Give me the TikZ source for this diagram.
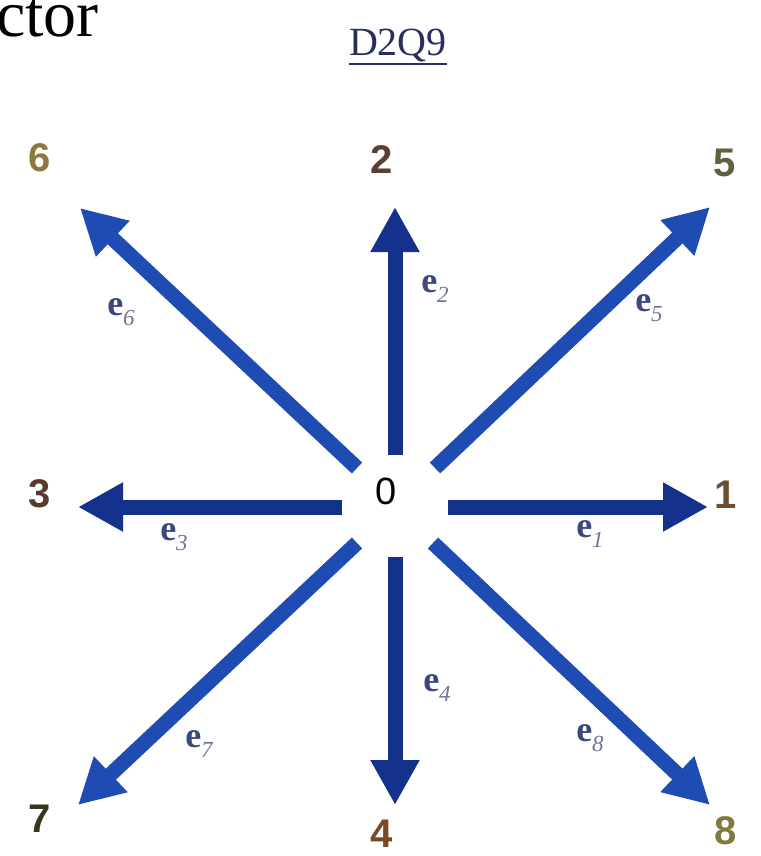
\documentclass[tikz,border=0pt]{standalone}
\usepackage{fontspec}
\setmainfont{Liberation Serif}
\newfontfamily\sansdigits{Liberation Sans}
\usetikzlibrary{arrows.meta}
\definecolor{straightblue}{RGB}{20,50,140}
\definecolor{diagblue}{RGB}{30,76,178}
\definecolor{titlecol}{RGB}{38,48,90}
\definecolor{ecol}{RGB}{58,72,125}
\definecolor{subcol}{RGB}{110,118,150}
\definecolor{cA}{RGB}{138,120,64}
\definecolor{cB}{RGB}{90,64,48}
\definecolor{cC}{RGB}{100,96,62}
\definecolor{cD}{RGB}{90,58,42}
\definecolor{cE}{RGB}{106,80,48}
\definecolor{cF}{RGB}{58,53,32}
\definecolor{cG}{RGB}{122,74,40}
\definecolor{cH}{RGB}{130,122,60}
\newcommand\evec[1]{{\bfseries e}\raisebox{-0.28em}{\fontsize{23}{23}\selectfont\itshape\color{subcol}#1}}
\begin{document}
\begin{tikzpicture}[x=1pt,y=-1pt,
  vec/.style={line width=15pt,-{Triangle[length=45pt,width=46pt]}},
  dig/.style={inner sep=0pt,font=\sansdigits\bfseries\fontsize{40}{40}\selectfont},
  elab/.style={inner sep=0pt,text=ecol,font=\fontsize{36}{36}\selectfont}]
\useasboundingbox (0,0) rectangle (760,856);
\fill[white] (0,0) rectangle (760,856);
\node[anchor=base west,inner sep=0pt,font=\fontsize{66}{66}\selectfont] (ctor) at (-4,37) {ctor};
\node[anchor=base,inner sep=0pt,text=titlecol,font=\fontsize{40}{40}\selectfont] (title) at (398,56) {D2Q9};
\draw[titlecol,line width=2pt] ([yshift=-8pt]title.base west) -- ([yshift=-8pt]title.base east);
\node[inner sep=0pt,font=\sansdigits\fontsize{38}{38}\selectfont] (O) at (386,491) {0};
% arrow start and end points
\coordinate (sN) at (395,455);  \coordinate (tN) at (395,207);
\coordinate (sS) at (395,557);  \coordinate (tS) at (395,805);
\coordinate (sE) at (448,507);  \coordinate (tE) at (708,507);
\coordinate (sW) at (342,507);  \coordinate (tW) at (78,507);
\coordinate (sNE) at (435,468); \coordinate (tNE) at (710,207);
\coordinate (sNW) at (357,468); \coordinate (tNW) at (80,208);
\coordinate (sSW) at (357,543); \coordinate (tSW) at (78,805);
\coordinate (sSE) at (433,543); \coordinate (tSE) at (710,805);
\draw[vec,straightblue] (sN) -- (tN);
\draw[vec,straightblue] (sS) -- (tS);
\draw[vec,straightblue] (sE) -- (tE);
\draw[vec,straightblue] (sW) -- (tW);
\draw[vec,diagblue] (sNE) -- (tNE);
\draw[vec,diagblue] (sNW) -- (tNW);
\draw[vec,diagblue] (sSW) -- (tSW);
\draw[vec,diagblue] (sSE) -- (tSE);
% direction numbers
\node[dig,text=cA] (n6) at (40,158) {6};
\node[dig,text=cB] (n2) at (382,160) {2};
\node[dig,text=cC] (n5) at (725,163) {5};
\node[dig,text=cD] (n3) at (40,494) {3};
\node[dig,text=cE] (n1) at (726,495) {1};
\node[dig,text=cF] (n7) at (40,819) {7};
\node[dig,text=cG] (n4) at (382,834) {4};
\node[dig,text=cH] (n8) at (726,831) {8};
% vector labels
\node[elab] (e2) at (435,289) {\evec{2}};
\node[elab] (e5) at (649,308) {\evec{5}};
\node[elab] (e6) at (121,312) {\evec{6}};
\node[elab] (e3) at (174,537) {\evec{3}};
\node[elab] (e1) at (590,534) {\evec{1}};
\node[elab] (e4) at (437,688) {\evec{4}};
\node[elab] (e7) at (199,744) {\evec{7}};
\node[elab] (e8) at (590,738) {\evec{8}};
\end{tikzpicture}
\end{document}
